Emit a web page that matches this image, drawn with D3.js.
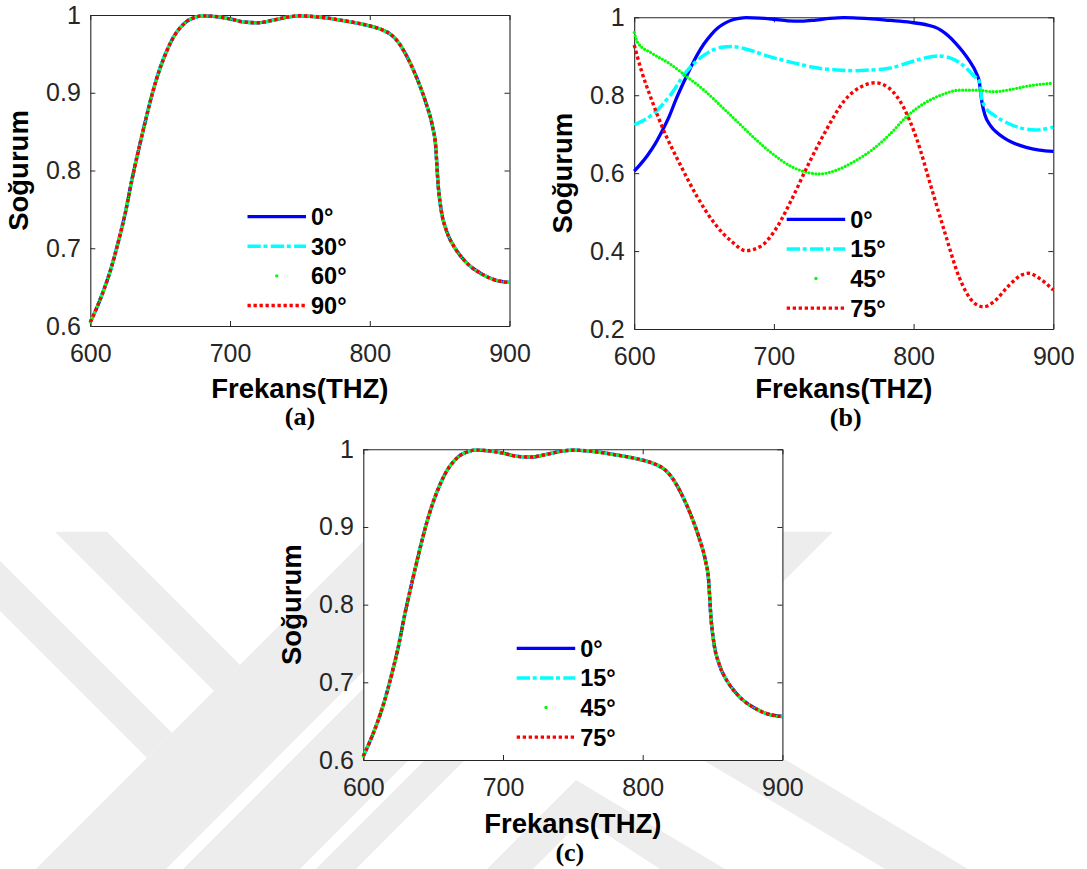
<!DOCTYPE html>
<html>
<head>
<meta charset="utf-8">
<script src="https://cdn.jsdelivr.net/npm/d3@7/dist/d3.min.js"></script>
<style>
  html, body { margin: 0; padding: 0; background: #fff; }
  svg { display: block; }
</style>
</head>
<body>
<div id="chart"></div>
<script>
// ---- data ----
// normal-incidence absorption curve (same in (a), (c) and the 0° curve of (b))
const baseFreq = [600, 605, 610, 615, 620, 625, 630, 635, 640, 645, 650, 655, 660, 665, 670, 675, 680, 690, 700, 710,
                  720, 730, 740, 750, 760, 770, 780, 790, 800, 810, 815, 820, 825, 830, 835, 840, 845, 847, 849, 851,
                  855, 860, 865, 870, 880, 890, 900];
const baseAbs  = [0.605, 0.625, 0.648, 0.675, 0.708, 0.745, 0.790, 0.830, 0.868, 0.903, 0.932, 0.955, 0.973, 0.985, 0.993, 0.997, 0.999, 0.998, 0.995, 0.991,
                  0.990, 0.993, 0.997, 0.999, 0.998, 0.996, 0.993, 0.990, 0.986, 0.980, 0.975, 0.966, 0.952, 0.934, 0.913, 0.888, 0.856, 0.835, 0.780, 0.750,
                  0.722, 0.703, 0.690, 0.680, 0.667, 0.659, 0.656];

// panel (b) – oblique incidence
const b15Freq = [600, 612.5, 625, 637.5, 650, 662.5, 670, 682.5, 695, 707.5, 720, 732.5, 745, 757.5, 770, 782.5, 795, 807.5, 817.5, 825,
                 835, 842.5, 847.5, 848.5, 851, 857.5, 867.5, 877.5, 887.5, 900];
const b15Abs  = [0.724, 0.749, 0.796, 0.861, 0.903, 0.923, 0.925, 0.916, 0.901, 0.889, 0.878, 0.869, 0.865, 0.863, 0.865, 0.869, 0.882, 0.895, 0.901, 0.897,
                 0.878, 0.852, 0.831, 0.796, 0.771, 0.749, 0.728, 0.715, 0.711, 0.718];
const b45Freq = [600, 602.5, 612.5, 625, 637.5, 650, 662.5, 675, 687.5, 700, 712.5, 725, 732.5, 745, 757.5, 770, 782.5, 795, 807.5, 820,
                 832.5, 845, 857.5, 870, 882.5, 900];
const b45Abs  = [0.961, 0.935, 0.908, 0.882, 0.848, 0.813, 0.771, 0.728, 0.685, 0.647, 0.617, 0.601, 0.598, 0.608, 0.630, 0.659, 0.698, 0.745, 0.779, 0.801,
                 0.813, 0.813, 0.809, 0.815, 0.824, 0.831];
const b75Freq = [600, 605, 612.5, 620, 632.5, 645, 657.5, 670, 680, 690, 702.5, 712.5, 725, 737.5, 750, 762.5, 772.5, 782.5, 792.5, 802.5,
                 812.5, 822.5, 832.5, 842.5, 850, 857.5, 867.5, 877.5, 882.5, 890, 900];
const b75Abs  = [0.929, 0.865, 0.788, 0.719, 0.625, 0.540, 0.471, 0.424, 0.401, 0.411, 0.463, 0.531, 0.625, 0.711, 0.784, 0.822, 0.832, 0.818, 0.771, 0.685,
                 0.565, 0.446, 0.334, 0.270, 0.257, 0.270, 0.309, 0.339, 0.343, 0.330, 0.300];

const xTicks   = [600, 700, 800, 900];
const yTicksAC = [0.6, 0.7, 0.8, 0.9, 1];
const yTicksB  = [0.2, 0.4, 0.6, 0.8, 1];
const legendA  = ["0°", "30°", "60°", "90°"];
const legendBC = ["0°", "15°", "45°", "75°"];
const xTitle = "Frekans(THZ)";
const yTitle = "Soğurum";

// ---- look ----
const width = 1087, height = 869;
const styles = [
  {color: "#0000ff", width: 3.3, dash: null, cap: "butt"},               // solid
  {color: "#00ffff", width: 3.5, dash: "13.3 2.7 4 3.3", cap: "butt"},   // dash-dot
  {color: "#00ff00", width: 3.2, dash: "0 3.4", cap: "round"},           // point markers
  {color: "#ff0000", width: 3.4, dash: "3.3 2.7", cap: "butt"}           // dotted
];
const sans = "'Liberation Sans', Arial, Helvetica, sans-serif";
const serif = "'Liberation Serif', 'Times New Roman', serif";

const panels = [
  {box: {l: 90.3, r: 509.5, t: 15, b: 326}, yDomain: [0.6, 1], yTicks: yTicksAC,
   series: [[baseFreq, baseAbs], [baseFreq, baseAbs], [baseFreq, baseAbs], [baseFreq, baseAbs]],
   names: legendA, leg: {x: 247.5, y: 216.7}, xt: 72, tag: "(a)", tagY: 99, tagDx: 0},
  {box: {l: 634.2, r: 1053.3, t: 17.3, b: 329}, yDomain: [0.2, 1], yTicks: yTicksB,
   series: [[baseFreq, baseAbs], [b15Freq, b15Abs], [b45Freq, b45Abs], [b75Freq, b75Abs]],
   names: legendBC, leg: {x: 786.7, y: 219.3}, xt: 69, tag: "(b)", tagY: 96.5, tagDx: 2},
  {box: {l: 363.3, r: 782.4, t: 449.3, b: 760}, yDomain: [0.6, 1], yTicks: yTicksAC,
   series: [[baseFreq, baseAbs], [baseFreq, baseAbs], [baseFreq, baseAbs], [baseFreq, baseAbs]],
   names: legendBC, leg: {x: 516.7, y: 648.3}, xt: 73, tag: "(c)", tagY: 100.5, tagDx: -3}
];

// faint thesis-archive watermark behind the lower figure
const watermark = [
  [[55, 531.7], [107, 531.7], [240, 665], [214, 691]],
  [[0, 561], [172, 733], [147, 758], [0, 611]],
  [[36, 869], [166, 869], [503, 531.7], [373, 531.7]],
  [[183, 869], [300, 869], [637, 531.7], [520, 531.7]],
  [[316, 869], [356, 869], [693, 531.7], [653, 531.7]],
  [[783, 531.7], [833, 531.7], [605, 760], [555, 760]],
  [[576, 780], [725, 869], [660, 869], [583, 819], [533, 869], [487, 869]],
  [[703, 760], [786, 760], [968, 869], [885, 869]]
];

const svg = d3.select("#chart").append("svg")
    .attr("width", width)
    .attr("height", height);

svg.append("rect").attr("width", width).attr("height", height).attr("fill", "#fff");

svg.append("g").selectAll("polygon")
    .data(watermark)
    .join("polygon")
    .attr("points", d => d.map(p => p.join(",")).join(" "))
    .attr("fill", "#ededed");

const yFmt = d => d === 1 ? "1" : d3.format(".1f")(d);

panels.forEach(p => {
  const box = p.box;
  const g = svg.append("g");
  const x = d3.scaleLinear().domain([600, 900]).range([box.l, box.r]);
  const y = d3.scaleLinear().domain(p.yDomain).range([box.b, box.t]);

  // plot area
  g.append("rect")
      .attr("x", box.l).attr("y", box.t)
      .attr("width", box.r - box.l).attr("height", box.b - box.t)
      .attr("fill", "#fff");

  const styleAxis = a => a
      .attr("font-size", 25)
      .attr("font-family", sans)
      .attr("color", "#262626")
      .call(s => s.select(".domain").attr("stroke-width", 1.1))
      .call(s => s.selectAll(".tick line").attr("stroke-width", 1));

  g.append("g").attr("transform", `translate(0,${box.b})`)
      .call(d3.axisBottom(x).tickValues(xTicks).tickSizeInner(-5).tickSizeOuter(0).tickPadding(18.3).tickFormat(d3.format("d")))
      .call(styleAxis);
  g.append("g").attr("transform", `translate(0,${box.t})`)
      .call(d3.axisTop(x).tickValues(xTicks).tickSizeInner(-5).tickSizeOuter(0).tickFormat(""))
      .call(styleAxis);
  g.append("g").attr("transform", `translate(${box.l},0)`)
      .call(d3.axisLeft(y).tickValues(p.yTicks).tickSizeInner(-5).tickSizeOuter(0).tickPadding(9.5).tickFormat(yFmt))
      .call(styleAxis);
  g.append("g").attr("transform", `translate(${box.r},0)`)
      .call(d3.axisRight(y).tickValues(p.yTicks).tickSizeInner(-5).tickSizeOuter(0).tickFormat(""))
      .call(styleAxis);

  // curves
  const line = d3.line()
      .x(d => x(d[0]))
      .y(d => y(d[1]))
      .curve(d3.curveMonotoneX);

  p.series.forEach((s, i) => {
    const st = styles[i];
    g.append("path")
        .datum(d3.zip(s[0], s[1]))
        .attr("d", line)
        .attr("fill", "none")
        .attr("stroke", st.color)
        .attr("stroke-width", st.width)
        .attr("stroke-linecap", st.cap)
        .attr("stroke-linejoin", "round")
        .attr("stroke-dasharray", st.dash);
  });

  // legend (no box)
  const rowH = 29.6, len = 58.5;
  p.names.forEach((name, i) => {
    const st = styles[i];
    const ly = p.leg.y + i * rowH;
    if (i === 2) {
      g.append("circle")
          .attr("cx", p.leg.x + len / 2).attr("cy", ly)
          .attr("r", 1.7).attr("fill", st.color);
    } else {
      g.append("line")
          .attr("x1", p.leg.x).attr("x2", p.leg.x + len)
          .attr("y1", ly).attr("y2", ly)
          .attr("stroke", st.color)
          .attr("stroke-width", st.width)
          .attr("stroke-dasharray", st.dash);
    }
    g.append("text")
        .attr("x", p.leg.x + len + 5).attr("y", ly)
        .attr("dy", "0.36em")
        .attr("font-family", sans).attr("font-weight", "bold").attr("font-size", 23.5)
        .attr("fill", "#000")
        .text(name);
  });

  // titles
  const cx = (box.l + box.r) / 2;
  g.append("text")
      .attr("x", cx).attr("y", box.b + p.xt)
      .attr("text-anchor", "middle")
      .attr("font-family", sans).attr("font-weight", "bold").attr("font-size", 27.5)
      .attr("fill", "#000")
      .text(xTitle);
  g.append("text")
      .attr("transform", `translate(${box.l - 62.3},${(box.t + box.b) / 2}) rotate(-90)`)
      .attr("text-anchor", "middle")
      .attr("font-family", sans).attr("font-weight", "bold").attr("font-size", 27.5)
      .attr("fill", "#000")
      .text(yTitle);
  g.append("text")
      .attr("x", cx + p.tagDx).attr("y", box.b + p.tagY)
      .attr("text-anchor", "middle")
      .attr("font-family", serif).attr("font-weight", "bold").attr("font-size", 26)
      .attr("fill", "#000")
      .text(p.tag);
});
</script>
</body>
</html>
